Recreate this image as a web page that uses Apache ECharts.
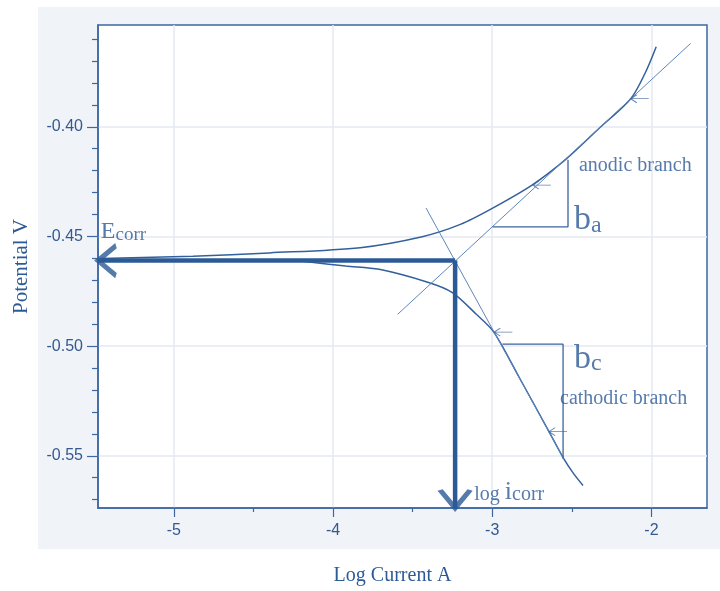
<!DOCTYPE html>
<html>
<head>
<meta charset="utf-8">
<script src="https://cdn.jsdelivr.net/npm/echarts@6/dist/echarts.min.js"></script>
<style>
  html, body { margin: 0; padding: 0; background: #fff; }
  #bg { position: absolute; left: 38px; top: 7px; width: 682px; height: 542px; background: #f0f3f8; }
  #chart { position: absolute; left: 0; top: 0; width: 720px; height: 591px; }
</style>
</head>
<body>
<div id="bg"></div>
<div id="chart"></div>
<script>
  // axis range and ticks
  const xMin = -5.476, xMax = -1.651;
  const yMin = -0.5738, yMax = -0.3536;
  const xTicks = [-5, -4, -3, -2];
  const xMinorTicks = [-4.5, -3.5, -2.5];
  const yTicks = [-0.40, -0.45, -0.50, -0.55];
  const yMinorTicks = [-0.36, -0.37, -0.38, -0.39, -0.41, -0.42, -0.43, -0.44,
    -0.46, -0.47, -0.48, -0.49, -0.51, -0.52, -0.53, -0.54, -0.56, -0.57];

  // measured polarisation curves
  const anodicX = [-5.46, -4.88, -4.4, -3.83, -3.44, -3.2, -3.0, -2.75, -2.54, -2.33, -2.13, -2.04, -1.97];
  const anodicY = [-0.4601, -0.459, -0.4575, -0.4551, -0.4501, -0.4445, -0.4372, -0.4266, -0.415, -0.4008, -0.3872, -0.3756, -0.3635];
  const cathodicX = [-4.2, -3.92, -3.71, -3.40, -3.25, -3.1, -2.99, -2.83, -2.64, -2.55, -2.49, -2.43];
  const cathodicY = [-0.4612, -0.4635, -0.465, -0.471, -0.4756, -0.4855, -0.4936, -0.5143, -0.5394, -0.5514, -0.558, -0.5635];

  // tafel fit lines
  const anodicTafelX = [-3.594, -1.754];
  const anodicTafelY = [-0.4855, -0.362];
  const cathodicTafelX = [-3.416, -2.55];
  const cathodicTafelY = [-0.437, -0.5515];

  // slope triangles
  const triAnodicX = [-2.998, -2.524, -2.524];
  const triAnodicY = [-0.4456, -0.4456, -0.415];
  const triCathodicX = [-2.936, -2.555, -2.555];
  const triCathodicY = [-0.4991, -0.4991, -0.5514];

  // corrosion point
  const logIcorr = -3.233;
  const eCorr = -0.461;

  // little arrows on the curves
  const markX = [-2.745, -2.13, -2.987, -2.643];
  const markY = [-0.4266, -0.3872, -0.4936, -0.5390];

  // annotations
  const noteX = [-5.458, -2.455, -2.486, -2.486, -2.574, -3.113];
  const noteY = [-0.4535, -0.4222, -0.4505, -0.5137, -0.5285, -0.5724];
  const noteText = ['{E|E}{s|corr}', '{t|anodic branch}', '{b|b}{bs|a}', '{b|b}{bs|c}',
    '{t|cathodic branch}', '{t|log }{i|i}{t|corr}'];

  const blue = '#2c5a96';
  const serif = 'Liberation Serif';

  function zip(xs, ys) {
    return xs.map(function (x, i) { return [x, ys[i]]; });
  }

  function lineSeries(data, width, color) {
    return {
      type: 'line', data: data, showSymbol: false, symbol: 'none',
      lineStyle: { width: width, color: color }, silent: true, z: 3
    };
  }

  let chart = echarts.init(document.getElementById('chart'));

  let axisCommon = {
    type: 'value', gridIndex: 0,
    splitLine: { show: false },
    axisLine: { show: false },
    axisLabel: { show: false }
  };

  let option = {
    animation: false,
    backgroundColor: 'transparent',
    grid: {
      left: 98, right: 13, top: 25, bottom: 82,
      show: true, backgroundColor: '#fff', borderColor: '#3d67a3', borderWidth: 1.5
    },
    xAxis: [{
      type: 'value', min: xMin, max: xMax, position: 'bottom',
      name: 'Log Current A', nameLocation: 'middle', nameGap: 58,
      nameTextStyle: { fontFamily: serif, fontSize: 20, color: blue, padding: [0, 20, 0, 0] },
      axisLine: { show: true, lineStyle: { color: '#3d67a3', width: 1.5 } },
      axisTick: { show: true, length: 9, customValues: xTicks, lineStyle: { color: '#3d67a3', width: 1.2 } },
      axisLabel: {
        customValues: xTicks, margin: 15, color: '#34598f', fontFamily: 'Liberation Sans', fontSize: 16,
        formatter: function (v) { return String(v); }
      },
      splitLine: { show: true, lineStyle: { color: '#e4e9f1', width: 1.5 } }
    }, Object.assign({}, axisCommon, {
      min: xMin, max: xMax, position: 'bottom',
      axisTick: { show: true, length: 4, customValues: xMinorTicks, lineStyle: { color: '#3d67a3', width: 1.2 } }
    })],
    yAxis: [{
      type: 'value', min: yMin, max: yMax, position: 'left',
      name: 'Potential V', nameLocation: 'middle', nameGap: 66, nameRotate: 90,
      nameTextStyle: { fontFamily: serif, fontSize: 21, color: blue },
      axisLine: { show: true, lineStyle: { color: '#3d67a3', width: 1.5 } },
      axisTick: { show: true, length: 11, customValues: yTicks, lineStyle: { color: '#3d67a3', width: 1.2 } },
      axisLabel: {
        customValues: yTicks, margin: 15, color: '#34598f', fontFamily: 'Liberation Sans', fontSize: 16,
        formatter: function (v) { return v.toFixed(2); }
      },
      splitLine: { show: true, lineStyle: { color: '#e4e9f1', width: 1.5 } }
    }, Object.assign({}, axisCommon, {
      min: yMin, max: yMax, position: 'left',
      axisTick: { show: true, length: 6, customValues: yMinorTicks, lineStyle: { color: '#3d67a3', width: 1.2 } }
    })],
    series: [
      Object.assign(lineSeries(zip(anodicX, anodicY), 1.5, '#33609c'), { smooth: 0.3 }),
      Object.assign(lineSeries(zip(cathodicX, cathodicY), 1.5, '#33609c'), { smooth: 0.3 }),
      lineSeries(zip(anodicTafelX, anodicTafelY), 1, '#5f86bb'),
      lineSeries(zip(cathodicTafelX, cathodicTafelY), 1, '#5f86bb'),
      lineSeries(zip(triAnodicX, triAnodicY), 1.3, '#3a64a0'),
      lineSeries(zip(triCathodicX, triCathodicY), 1.3, '#3a64a0'),
      Object.assign(lineSeries([[logIcorr, eCorr], [xMin, eCorr]], 4.5, blue), { z: 5 }),
      Object.assign(lineSeries([[logIcorr, eCorr], [logIcorr, yMin]], 4.5, blue), { z: 5 }),
      {
        // arrow heads of the Ecorr / icorr arrows
        type: 'scatter', clip: false, silent: true, z: 6,
        data: [
          { value: [xMin, eCorr], symbol: 'path://M18,0 L0,15 L18,30', symbolSize: [18, 30], symbolOffset: [9, 0] },
          { value: [logIcorr, yMin], symbol: 'path://M0,0 L15,18 L30,0', symbolSize: [30, 18], symbolOffset: [0, -9] }
        ],
        itemStyle: { color: 'rgba(0,0,0,0)', borderColor: blue, borderWidth: 4.5 }
      },
      {
        type: 'scatter', silent: true, z: 6,
        data: zip(markX, markY),
        symbol: 'path://M0,5 L18,5 M6,1 L0,5 L6,9',
        symbolSize: [18, 8], symbolOffset: [9, 0],
        itemStyle: { color: 'rgba(0,0,0,0)', borderColor: '#3a64a0', borderWidth: 1 }
      },
      {
        type: 'scatter', silent: true, z: 7,
        symbolSize: 0,
        data: zip(noteX, noteY).map(function (p, i) {
          return { value: p, label: { formatter: noteText[i] } };
        }),
        label: {
          show: true, position: [0, 0], align: 'left', verticalAlign: 'bottom',
          color: blue, fontFamily: serif,
          rich: {
            E: { fontSize: 24, lineHeight: 24, color: blue, fontFamily: serif, verticalAlign: 'bottom' },
            s: { fontSize: 19, lineHeight: 19, color: blue, fontFamily: serif, verticalAlign: 'bottom' },
            t: { fontSize: 20, lineHeight: 20, color: blue, fontFamily: serif, verticalAlign: 'bottom' },
            i: { fontSize: 26, lineHeight: 26, color: blue, fontFamily: serif, verticalAlign: 'bottom' },
            b: { fontSize: 34, lineHeight: 34, color: blue, fontFamily: serif, verticalAlign: 'bottom' },
            bs: { fontSize: 24, lineHeight: 24, color: blue, fontFamily: serif, verticalAlign: 'bottom' }
          }
        }
      }
    ]
  };

  chart.setOption(option);
</script>
</body>
</html>
